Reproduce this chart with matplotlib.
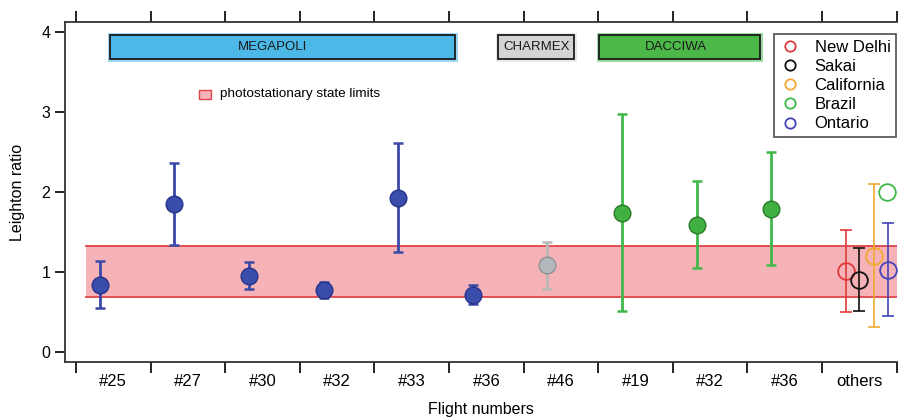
import numpy as np
import matplotlib.pyplot as plt
from matplotlib.patches import Rectangle

plt.rcParams['font.family'] = ['Liberation Sans', 'DejaVu Sans']

# flight categories along the x axis
flights = ['#25', '#27', '#30', '#32', '#33', '#36', '#46', '#19', '#32', '#36', 'others']

# campaign flights: value, lower and upper error limits
campaign_val = [0.83, 1.85, 0.94, 0.77, 1.92, 0.71, 1.08, 1.73, 1.58, 1.78]
campaign_lo = [0.54, 1.33, 0.78, 0.67, 1.24, 0.59, 0.78, 0.51, 1.04, 1.08]
campaign_hi = [1.13, 2.36, 1.12, 0.87, 2.61, 0.83, 1.37, 2.97, 2.13, 2.49]
campaign_group = ['MEGAPOLI'] * 6 + ['CHARMEX'] + ['DACCIWA'] * 3

# other studies (in the "others" column)
other_names = ['New Delhi', 'Sakai', 'California', 'Brazil', 'Ontario']
other_val = [1.01, 0.90, 1.20, 2.00, 1.02]
other_lo = [0.49, 0.51, 0.31, np.nan, 0.45]
other_hi = [1.52, 1.29, 2.10, np.nan, 1.61]

# photostationary state limits
pss_limits = [0.68, 1.32]

group_style = {
    'MEGAPOLI': dict(face='#3a4dab', edge='#26338a', err='#3a48a8', box='#4cb8e8', glow='#9ad6f2'),
    'CHARMEX': dict(face='#b4b8bd', edge='#8f9398', err='#b8b8b8', box='#d4d4d6', glow='#e8e8ea'),
    'DACCIWA': dict(face='#40b040', edge='#2a7a2a', err='#40b84a', box='#4cb848', glow='#9ad89a'),
}
other_colors = ['#e03a3a', '#111111', '#f0aa30', '#40b848', '#4444bb']
other_offsets = [-0.18, 0.0, 0.19, 0.37, 0.38]

fig = plt.figure(figsize=(9.01, 4.17), dpi=100)
ax = fig.add_axes([0.0721, 0.1319, 0.9231, 0.8153])

# photostationary band
ax.fill_between([-0.37, 10.5], pss_limits[0], pss_limits[1], color='#f5b3b7', zorder=1, lw=0)
for lim in pss_limits:
    ax.plot([-0.37, 10.5], [lim, lim], color='#e04448', lw=1.3, zorder=2)

# campaign flights
for i, (v, lo, hi, g) in enumerate(zip(campaign_val, campaign_lo, campaign_hi, campaign_group)):
    st = group_style[g]
    x = i - 0.18
    ax.errorbar(x, v, yerr=[[v - lo], [hi - v]], fmt='none', ecolor=st['err'],
                elinewidth=2.0, capsize=3.5, capthick=1.8, zorder=3)
    ax.plot(x, v, 'o', ms=12, mfc=st['face'], mec=st['edge'], mew=1.0, zorder=4)

# other studies
handles = []
for name, v, lo, hi, c, off in zip(other_names, other_val, other_lo, other_hi, other_colors, other_offsets):
    x = 10 + off
    if not np.isnan(lo):
        ax.errorbar(x, v, yerr=[[v - lo], [hi - v]], fmt='none', ecolor=c,
                    elinewidth=1.2, capsize=4, capthick=1.2, zorder=3)
    h, = ax.plot(x, v, 'o', ms=12, mfc='none', mec=c, mew=1.3, zorder=4, label=name)
    handles.append(h)

# campaign boxes
boxes = [('MEGAPOLI', -0.04, 4.58, 2.13), ('CHARMEX', 5.16, 6.18, 5.67), ('DACCIWA', 6.51, 8.67, 7.54)]
for label, x0, x1, xt in boxes:
    st = group_style[label]
    ax.add_patch(Rectangle((x0, 3.66), x1 - x0, 0.30, facecolor=st['box'], edgecolor=st['glow'],
                           lw=3.5, zorder=5))
    ax.add_patch(Rectangle((x0, 3.66), x1 - x0, 0.30, facecolor=st['box'], edgecolor='#1a1a1a',
                           lw=1.3, zorder=5))
    ax.text(xt, 3.81, label, ha='center', va='center', fontsize=9.5,
            color='#1a1a1a', zorder=6)

# band legend entry
ax.add_patch(Rectangle((1.15, 3.16), 0.16, 0.11, facecolor='#f5b3b7', edgecolor='#e04448',
                       lw=1.0, zorder=5))
ax.text(1.43, 3.22, 'photostationary state limits', ha='left', va='center', fontsize=9.7)

leg = ax.legend(handles=handles, loc='upper right', bbox_to_anchor=(0.9995, 0.965),
                fontsize=12, frameon=True, fancybox=False, edgecolor='#222222',
                handlelength=1.2, handletextpad=0.9, labelspacing=0.25,
                borderpad=0.35, borderaxespad=0.0, markerscale=0.62)
leg.get_frame().set_linewidth(1.2)

ax.set_xlim(-0.647, 10.5)
ax.set_ylim(-0.13, 4.12)

ax.set_yticks([0, 1, 2, 3, 4])
ax.tick_params(axis='y', labelsize=11.5, length=7, width=1.2, direction='out')

bounds = np.arange(-0.5, 10.6, 1.0)
ax.set_xticks(bounds)
ax.set_xticklabels([])
ax.set_xticks(np.arange(len(flights)), minor=True)
ax.set_xticklabels(flights, minor=True, fontsize=12)
ax.tick_params(axis='x', which='major', length=8, width=1.2, direction='out', top=True)
ax.tick_params(axis='x', which='minor', length=0, pad=9)

ax.spines['right'].set_visible(False)
for s in ['left', 'top', 'bottom']:
    ax.spines[s].set_linewidth(1.3)
    ax.spines[s].set_color('#333333')

ax.set_xlabel('Flight numbers', fontsize=11.5, labelpad=9)
ax.set_ylabel('Leighton ratio', fontsize=11.5, labelpad=12)

fig.savefig('out.png', dpi=100)
